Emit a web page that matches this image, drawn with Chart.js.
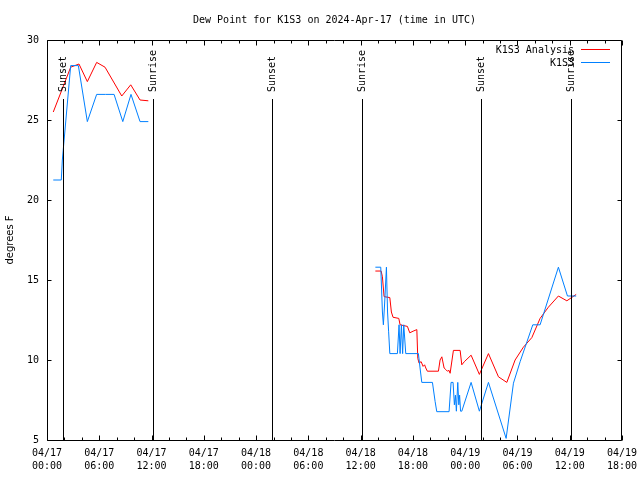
<!DOCTYPE html>
<html><head><meta charset="utf-8">
<script src="https://cdn.jsdelivr.net/npm/chart.js@4"></script>
<style>html,body{margin:0;padding:0;background:#fff}canvas{display:block}</style>
</head><body>
<canvas id="c" width="640" height="480"></canvas>
<script>
const titleText = "Dew Point for K1S3 on 2024-Apr-17 (time in UTC)";
const yAxisLabel = "degrees F";
const xTickValues = [0, 6, 12, 18, 24, 30, 36, 42, 48, 54, 60, 66];
const xTickDates = ["04/17","04/17","04/17","04/17","04/18","04/18","04/18","04/18","04/19","04/19","04/19","04/19"];
const xTickTimes = ["00:00","06:00","12:00","18:00","00:00","06:00","12:00","18:00","00:00","06:00","12:00","18:00"];
const yTickValues = [5, 10, 15, 20, 25, 30];
const seriesNames = ["K1S3 Analysis", "K1S3"];
const seriesColors = ["#ff0000", "#0080ff"];

// hours since 04/17 00:00 UTC ; null marks the data gap
const analysisHours = [0.72, 2.72, 3.67, 4.63, 5.70, 6.66, 8.58, 9.61, 10.68, 11.63,
  24,
  37.69, 38.35, 38.50, 38.69, 39.35, 39.53, 39.72, 40.38, 40.53, 41.37,
  41.64, 42.02, 42.45, 42.56, 42.71, 42.94, 43.17, 43.34, 43.48, 43.66,
  44.93, 45.12, 45.32, 45.58, 45.78, 45.96, 46.15, 46.27, 46.65, 47.42,
  47.61, 47.91, 48.68, 49.63, 50.67, 51.82, 52.78, 53.73, 54.68, 55.65,
  56.60, 57.55, 58.70, 59.67, 60.74];
const analysisValues = [25.5, 28.3, 28.5, 27.4, 28.6, 28.3, 26.5, 27.2, 26.25, 26.2,
  null,
  15.56, 15.56, 15.2, 13.96, 13.9, 13.0, 12.67, 12.6, 12.2, 12.1,
  11.7, 11.8, 11.9, 10.1, 9.8, 9.9, 9.6, 9.7, 9.5, 9.3,
  9.3, 10.0, 10.2, 9.5, 9.4, 9.3, 9.35, 9.17, 10.6, 10.6,
  9.7, 9.9, 10.3, 9.1, 10.4, 8.95, 8.6, 10.0, 10.8, 11.4,
  12.6, 13.3, 14.0, 13.7, 14.1];

const obsHours = [0.72, 1.64, 1.76, 2.72, 3.60, 4.63, 5.70, 6.70, 7.70, 8.70, 9.64, 10.68, 11.63,
  24,
  37.69, 38.31, 38.50, 38.61, 38.75, 38.96, 39.09, 39.21, 39.35, 40.22,
  40.41, 40.53, 40.68, 40.82, 40.95, 41.18, 42.63, 42.82, 43.02, 44.24,
  44.55, 44.74, 46.15, 46.38, 46.61, 46.76, 46.88, 46.99, 47.15, 47.27,
  47.36, 47.47, 47.61, 48.68, 49.63, 50.67, 52.70, 53.54, 54.31, 55.76,
  56.60, 58.70, 59.74, 60.74];
const obsValues = [21.25, 21.25, 22.5, 28.4, 28.4, 24.9, 26.6, 26.6, 26.6, 24.9, 26.6, 24.9, 24.9,
  null,
  15.8, 15.8, 13.0, 12.2, 13.5, 15.8, 13.0, 11.8, 10.4, 10.4,
  12.2, 10.4, 12.2, 10.4, 12.2, 10.4, 10.4, 9.5, 8.6, 8.6,
  7.4, 6.77, 6.77, 8.6, 8.6, 7.2, 7.8, 6.8, 8.6, 7.2,
  7.8, 6.8, 6.8, 8.6, 6.8, 8.6, 5.1, 8.55, 9.9, 12.2,
  12.2, 15.8, 14.0, 14.0];

const sunEventHours = [1.79, 12.21, 25.78, 36.17, 49.86, 60.15];
const sunEventLabels = ["Sunset", "Sunrise", "Sunset", "Sunrise", "Sunset", "Sunrise"];

const FONT_FAMILY = "'DejaVu Sans Mono', monospace";
const FONT_SIZE = 10;
const FONT = FONT_SIZE + "px " + FONT_FAMILY;

function toPoints(hs, vs) { return hs.map((h, i) => ({x: h, y: vs[i]})); }

const decor = {
  id: 'decor',
  beforeDraw(chart) {
    const ctx = chart.ctx;
    ctx.save(); ctx.fillStyle = '#fff'; ctx.fillRect(0, 0, chart.width, chart.height); ctx.restore();
  },
  afterDatasetsDraw(chart) {
    const {ctx, chartArea: a, scales: {x, y}} = chart;
    const L = Math.round(a.left) + 0.5, R = Math.round(a.right) - 0.5;
    const T = Math.round(a.top) + 0.5, B = Math.round(a.bottom) + 0.5;
    ctx.save();
    ctx.strokeStyle = '#000'; ctx.fillStyle = '#000'; ctx.lineWidth = 1;
    ctx.font = FONT;
    // sunrise / sunset markers
    sunEventHours.forEach((h, i) => {
      const px = Math.round(x.getPixelForValue(h)) + 0.5;
      ctx.beginPath(); ctx.moveTo(px, a.top + 59); ctx.lineTo(px, B); ctx.stroke();
      ctx.save();
      ctx.translate(px, a.top + 52); ctx.rotate(-Math.PI / 2);
      ctx.textAlign = 'left'; ctx.textBaseline = 'middle';
      ctx.fillText(sunEventLabels[i], 0, 0);
      ctx.restore();
    });
    // border
    ctx.beginPath(); ctx.rect(L, T, R - L, B - T); ctx.stroke();
    // x ticks (major every 6 h, minor every 2 h)
    for (let h = x.min; h <= x.max; h += 2) {
      const px = Math.round(x.getPixelForValue(h)) + 0.5;
      const len = (h % 6 === 0) ? 5 : 3;
      ctx.beginPath();
      ctx.moveTo(px, B); ctx.lineTo(px, B - len);
      ctx.moveTo(px, T); ctx.lineTo(px, T + len);
      ctx.stroke();
    }
    // y ticks
    yTickValues.forEach(v => {
      const py = Math.round(y.getPixelForValue(v)) + 0.5;
      ctx.beginPath();
      ctx.moveTo(L, py); ctx.lineTo(L + 4, py);
      ctx.moveTo(R, py); ctx.lineTo(R - 4, py);
      ctx.stroke();
    });
    // legend
    ctx.textAlign = 'right'; ctx.textBaseline = 'middle';
    seriesNames.forEach((n, i) => {
      const ly = a.top + 10 + i * 13;
      ctx.fillStyle = '#000';
      ctx.fillText(n, a.right - 48, ly);
      ctx.strokeStyle = seriesColors[i];
      ctx.beginPath(); ctx.moveTo(a.right - 41, Math.round(ly) - 0.5); ctx.lineTo(a.right - 12, Math.round(ly) - 0.5); ctx.stroke();
    });
    // title
    ctx.fillStyle = '#000';
    ctx.textAlign = 'center'; ctx.textBaseline = 'middle';
    ctx.fillText(titleText, (a.left + a.right) / 2, 20);
    // y axis label
    ctx.save();
    ctx.translate(10, (a.top + a.bottom) / 2);
    ctx.rotate(-Math.PI / 2);
    ctx.textAlign = 'center'; ctx.textBaseline = 'middle';
    ctx.font = FONT_SIZE + "px 'DejaVu Sans', sans-serif";
    ctx.fillText(yAxisLabel, 0, 0);
    ctx.restore();
    ctx.restore();
  }
};

new Chart(document.getElementById('c'), {
  type: 'line',
  data: {
    datasets: [
      { label: seriesNames[1], data: toPoints(obsHours, obsValues), borderColor: seriesColors[1],
        borderWidth: 1, pointRadius: 0, tension: 0, spanGaps: false, order: 0 },
      { label: seriesNames[0], data: toPoints(analysisHours, analysisValues), borderColor: seriesColors[0],
        borderWidth: 1, pointRadius: 0, tension: 0, spanGaps: false, order: 1 }
    ]
  },
  options: {
    responsive: false, animation: false, devicePixelRatio: 1,
    layout: { padding: { top: 40, right: 18, left: 0, bottom: 0 } },
    plugins: { legend: { display: false }, tooltip: { enabled: false }, title: { display: false } },
    scales: {
      x: {
        type: 'linear', min: 0, max: 66,
        grid: { display: false, drawTicks: false }, border: { display: false },
        afterFit(s) { s.height = 40; s.paddingLeft = 0; s.paddingRight = 0; },
        ticks: {
          stepSize: 6, autoSkip: false, maxRotation: 0, minRotation: 0, padding: 7,
          color: '#000', font: { family: FONT_FAMILY, size: FONT_SIZE, lineHeight: 1.3 },
          callback(v) { const i = xTickValues.indexOf(v); return i >= 0 ? [xTickDates[i], xTickTimes[i]] : ''; }
        }
      },
      y: {
        type: 'linear', min: 5, max: 30,
        grid: { display: false, drawTicks: false }, border: { display: false },
        afterFit(s) { s.width = 47; s.paddingTop = 0; s.paddingBottom = 0; },
        ticks: {
          stepSize: 5, padding: 8, color: '#000', font: { family: FONT_FAMILY, size: FONT_SIZE },
          callback(v) { return yTickValues.includes(v) ? String(v) : ''; }
        }
      }
    }
  },
  plugins: [decor]
});
</script>
</body></html>
